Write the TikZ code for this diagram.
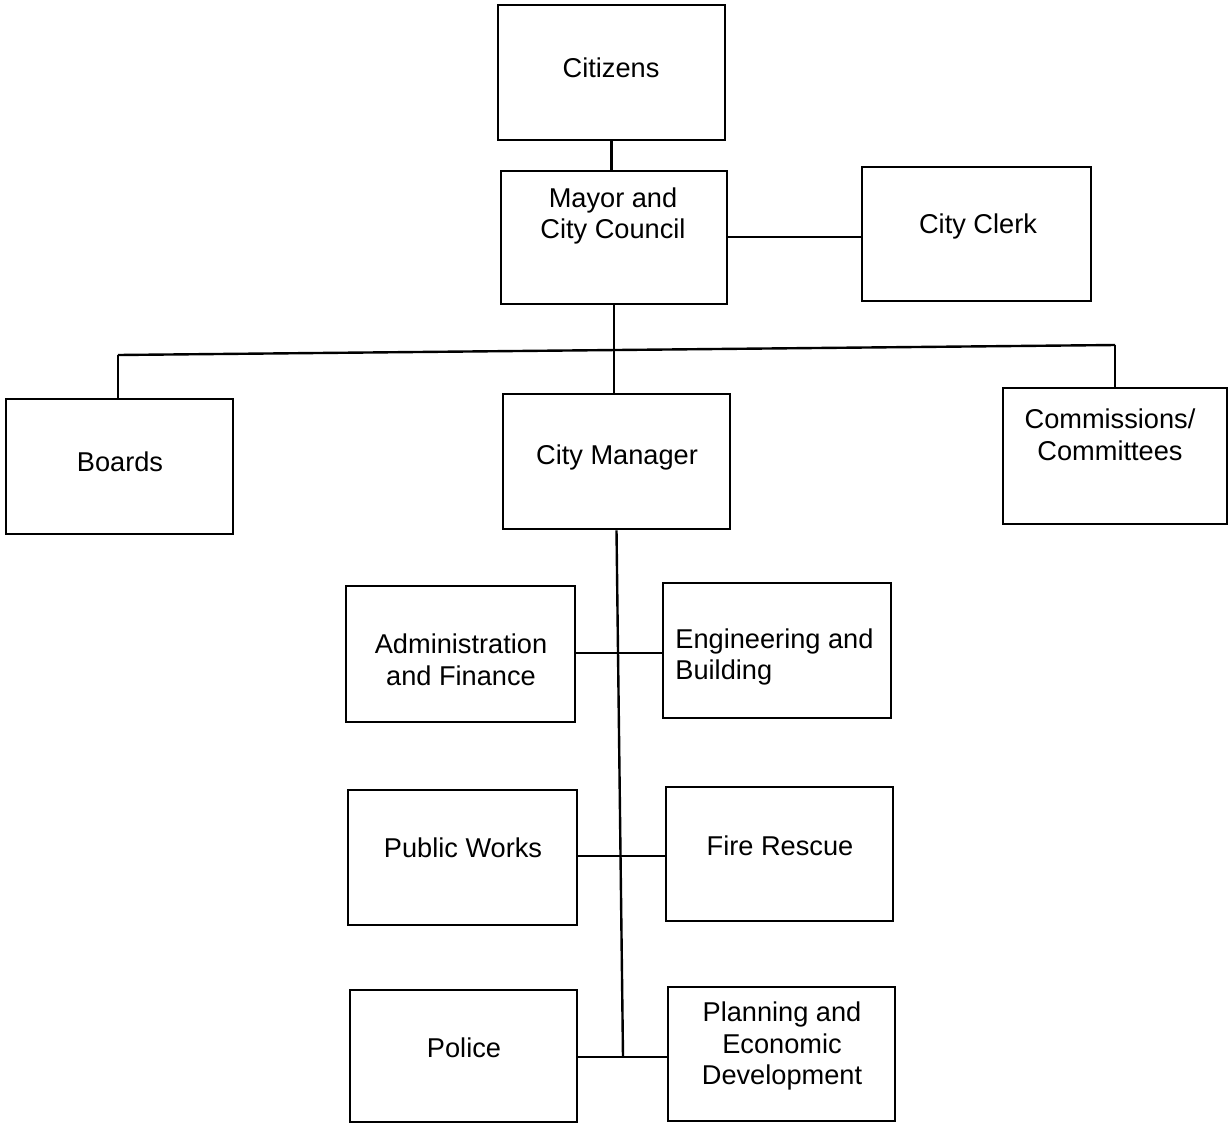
\documentclass[tikz,border=0pt]{standalone}
\usepackage{fontspec}
\setmainfont{Liberation Sans}
\begin{document}
\begin{tikzpicture}[x=0.5pt,y=-0.5pt,
  box/.style={draw,line width=1.3pt,inner sep=0pt},
  lbl/.style={font=\fontsize{13.6}{15.8}\selectfont,align=center,inner sep=0pt},
  conn/.style={line width=1.2pt}]
\useasboundingbox (0,0) rectangle (1230,1125);
% boxes
\node[box,minimum width=113.5pt,minimum height=67.5pt] (cit) at (611.5,72.5) {};
\node[box,minimum width=113pt,minimum height=66.5pt] (may) at (614,237.5) {};
\node[box,minimum width=114.5pt,minimum height=67pt] (clk) at (976.5,234) {};
\node[box,minimum width=113.5pt,minimum height=67.5pt] (brd) at (119.5,466.5) {};
\node[box,minimum width=113.5pt,minimum height=67.5pt] (mgr) at (616.5,461.5) {};
\node[box,minimum width=112pt,minimum height=68pt] (com) at (1115,456) {};
\node[box,minimum width=114.5pt,minimum height=68pt] (adm) at (460.5,654) {};
\node[box,minimum width=114pt,minimum height=67.5pt] (eng) at (777,650.5) {};
\node[box,minimum width=114.5pt,minimum height=67.5pt] (pw) at (462.5,857.5) {};
\node[box,minimum width=113.5pt,minimum height=67pt] (fir) at (779.5,854) {};
\node[box,minimum width=113.5pt,minimum height=66pt] (pol) at (463.5,1056) {};
\node[box,minimum width=113.5pt,minimum height=67pt] (pln) at (781.5,1054) {};
% labels
\node[lbl] (tcit) at (611,68) {Citizens};
\node[lbl] (tmay) at (613,216) {Mayor and\\City Council};
\node[lbl] (tclk) at (978,226) {City Clerk};
\node[lbl] (tbrd) at (120,462) {Boards};
\node[lbl] (tmgr) at (617,457) {City Manager};
\node[lbl] (tcom) at (1110,435) {Commissions/\\Committees};
\node[lbl] (tadm) at (461,660) {Administration\\and Finance};
\node[lbl,align=left,anchor=west] (teng) at (675,657) {Engineering and\\Building};
\node[lbl] (tpw) at (463,848) {Public Works};
\node[lbl] (tfir) at (780,846) {Fire Rescue};
\node[lbl] (tpol) at (464,1048) {Police};
\node[lbl] (tpln) at (782,1046) {Planning and\\Economic\\Development};
% connectors
\coordinate (bl) at (118,355);
\coordinate (br) at (1115,345);
\coordinate (sp) at (623,1057);
\coordinate (h1) at (620,653);
\coordinate (h2) at (621,856);
\coordinate (h3) at (623,1057);
\coordinate (hc) at (800,237);
\draw[conn] (cit.south) -- (cit.south |- may.north);
\draw[conn] (may.east |- hc) -- (clk.west |- hc);
\draw[conn] (may.south) -- (may.south |- mgr.north);
\draw[conn] (bl) -- (br);
\draw[conn] (bl) -- (bl |- brd.north);
\draw[conn] (br) -- (br |- com.north);
\draw[conn] (mgr.south) -- (sp);
\draw[conn] (adm.east |- h1) -- (eng.west |- h1);
\draw[conn] (pw.east |- h2) -- (fir.west |- h2);
\draw[conn] (pol.east |- h3) -- (pln.west |- h3);
\end{tikzpicture}
\end{document}
